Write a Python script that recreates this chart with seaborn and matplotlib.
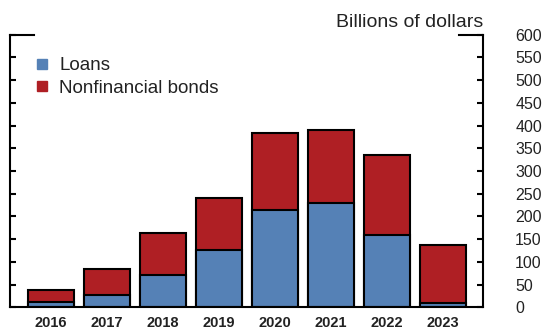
import matplotlib
matplotlib.use("Agg")
import matplotlib.pyplot as plt
from matplotlib.lines import Line2D
import pandas as pd
import seaborn as sns

# Annual amounts, billions of dollars
years = ["2016", "2017", "2018", "2019", "2020", "2021", "2022", "2023"]
loans = [11, 27, 71, 125, 215, 230, 160, 9]
bonds = [26, 57, 93, 115, 169, 160, 175, 128]
y_ticks = list(range(0, 601, 50))
series_labels = ["Loans", "Nonfinancial bonds"]
units_label = "Billions of dollars"

LOAN_BLUE = "#5581B6"
BOND_RED = "#AF1F24"

sns.set_theme(style="white")
plt.rcParams["font.family"] = ["Liberation Sans", "DejaVu Sans"]

df = pd.DataFrame({"year": years, "loans": loans, "bonds": bonds})
df["total"] = df["loans"] + df["bonds"]

W, H = 543, 332
fig = plt.figure(figsize=(W / 100, H / 100), dpi=100)
left_px, right_px, top_px, bottom_px = 10, 483.3, 34.6, 307.3
ax = fig.add_axes([left_px / W, 1 - bottom_px / H,
                   (right_px - left_px) / W, (bottom_px - top_px) / H])

bar_kw = dict(width=0.82, edgecolor="black", linewidth=1.5, saturation=1, ax=ax)
# Full stack height in red, loans drawn over the lower part in blue
sns.barplot(data=df, x="year", y="total", color=BOND_RED, **bar_kw)
sns.barplot(data=df, x="year", y="loans", color=LOAN_BLUE, **bar_kw)

ax.set_xlim(-0.725, 7.725)
ax.set_ylim(0, 600)
ax.set_yticks(y_ticks)
ax.set_xlabel("")
ax.set_ylabel("")

for side in ("left", "right", "bottom"):
    ax.spines[side].set_visible(True)
    ax.spines[side].set_color("black")
    ax.spines[side].set_linewidth(1.5)
ax.spines["top"].set_visible(False)

# Short corner pieces along the top edge
stub = 24 / (right_px - left_px)
for xs in ([0, stub], [1 - stub, 1]):
    ax.plot(xs, [1, 1], transform=ax.transAxes, color="black", lw=1.5,
            clip_on=False, solid_capstyle="projecting")

ax.tick_params(axis="y", which="both", direction="in", left=True, right=True,
               labelleft=False, labelright=True, length=4.5, width=1.5,
               color="black", labelsize=11.5, pad=23, labelcolor="#222222")
ax.tick_params(axis="x", length=0, labelsize=10.5, pad=6, labelcolor="#222222")
for lbl in ax.get_xticklabels():
    lbl.set_fontweight("bold")

fig.text(right_px / W, 1 - 26.7 / H, units_label, ha="right", va="baseline",
         fontsize=14, color="#222222")

handles = [Line2D([], [], marker="s", linestyle="none", markersize=7,
                  markerfacecolor=c, markeredgecolor=c)
           for c in (LOAN_BLUE, BOND_RED)]
ax.legend(handles, series_labels, loc="upper left",
          bbox_to_anchor=(35 / W, 1 - 57 / H), bbox_transform=fig.transFigure,
          frameon=False, fontsize=13.5, handlelength=0.7, handletextpad=0.6,
          labelspacing=0.3, borderpad=0, borderaxespad=0, labelcolor="#222222")

fig.savefig("out.png", dpi=100)
